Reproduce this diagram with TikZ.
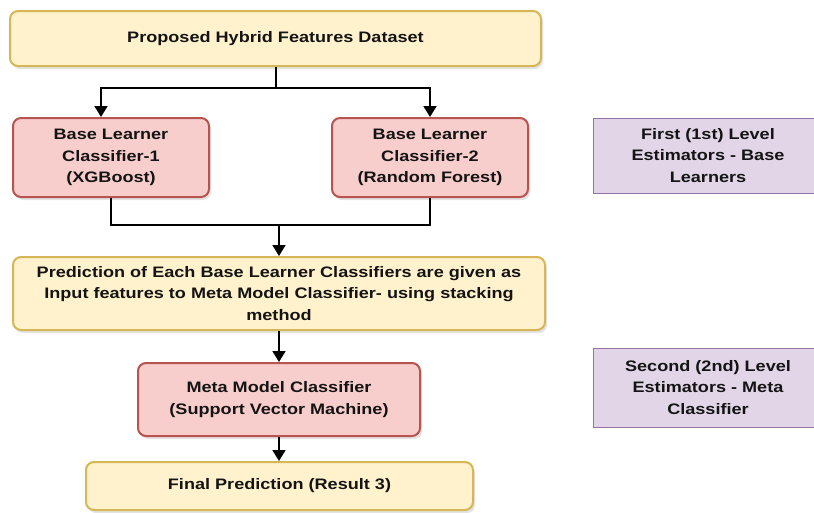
\documentclass[tikz,border=0pt]{standalone}
\usepackage{fontspec}
\setmainfont{Liberation Sans}[FakeStretch=1.19]
\usetikzlibrary{arrows.meta,shadows,calc}
\definecolor{yfill}{HTML}{FFF2CC}
\definecolor{ydraw}{HTML}{D6B656}
\definecolor{rfill}{HTML}{F8CECC}
\definecolor{rdraw}{HTML}{B85450}
\definecolor{pfill}{HTML}{E1D5E7}
\definecolor{pdraw}{HTML}{9673A6}
\definecolor{ink}{HTML}{141414}
\tikzset{
  box/.style={rounded corners=8pt, line width=2pt, align=center, inner sep=2pt,
    font=\fontsize{15.2}{21.5}\selectfont\bfseries, text=ink,
    drop shadow={opacity=0.22, shadow xshift=2pt, shadow yshift=-3pt}},
  ybox/.style={box, fill=yfill, draw=ydraw},
  rbox/.style={box, fill=rfill, draw=rdraw},
  pbox/.style={draw=pdraw, fill=pfill, line width=1pt, align=center, inner sep=2pt,
    font=\fontsize{15.2}{21.5}\selectfont\bfseries, text=ink},
  wire/.style={line width=1.8pt, draw=black},
  arr/.style={wire, -{Triangle[length=11pt,width=13pt]}}
}
\begin{document}
\begin{tikzpicture}[x=1pt,y=-1pt]
\useasboundingbox (0,0) rectangle (814,512);
\clip (0,0) rectangle (814,512);
\fill[white] (0,0) rectangle (814,512);

% main column
\node[ybox, minimum width=531pt, minimum height=55pt] (top) at (275.5,38.5)
  {Proposed Hybrid Features Dataset};
\node[rbox, minimum width=196pt, minimum height=79pt] (bl1) at (111,157.5)
  {Base Learner\\Classifier-1\\(XGBoost)};
\node[rbox, minimum width=196pt, minimum height=79pt] (bl2) at (430,157.5)
  {Base Learner\\Classifier-2\\(Random Forest)};
\node[ybox, minimum width=532pt, minimum height=73pt] (pred) at (279,293.5)
  {Prediction of Each Base Learner Classifiers are given as\\Input features to Meta Model Classifier- using stacking\\method};
\node[rbox, minimum width=282pt, minimum height=73pt] (meta) at (279,399.5)
  {Meta Model Classifier\\(Support Vector Machine)};
\node[ybox, minimum width=387pt, minimum height=48pt] (final) at (279.5,486)
  {Final Prediction (Result 3)};

% level labels on the right
\node[pbox, minimum width=230pt, minimum height=75pt] (lvl1) at (708,155.5)
  {First (1st) Level\\Estimators - Base\\Learners};
\node[pbox, minimum width=230pt, minimum height=79pt] (lvl2) at (708,387.5)
  {Second (2nd) Level\\Estimators - Meta\\Classifier};

% fork from dataset to base learners
\coordinate (fork) at (276,88);
\draw[wire] (top.south -| fork) -- (fork);
\draw[arr] (fork) -| ([xshift=-10pt]bl1.north);
\draw[arr] (fork) -| (bl2.north);

% join of base learner outputs
\coordinate (join) at (279,225);
\draw[wire] (bl1.south) |- (join);
\draw[wire] (bl2.south) |- (join);
\draw[arr] (join) -- (pred.north -| join);

% lower chain
\draw[arr] (pred.south -| join) -- (meta.north -| join);
\draw[arr] (meta.south -| join) -- (final.north -| join);
\end{tikzpicture}
\end{document}
